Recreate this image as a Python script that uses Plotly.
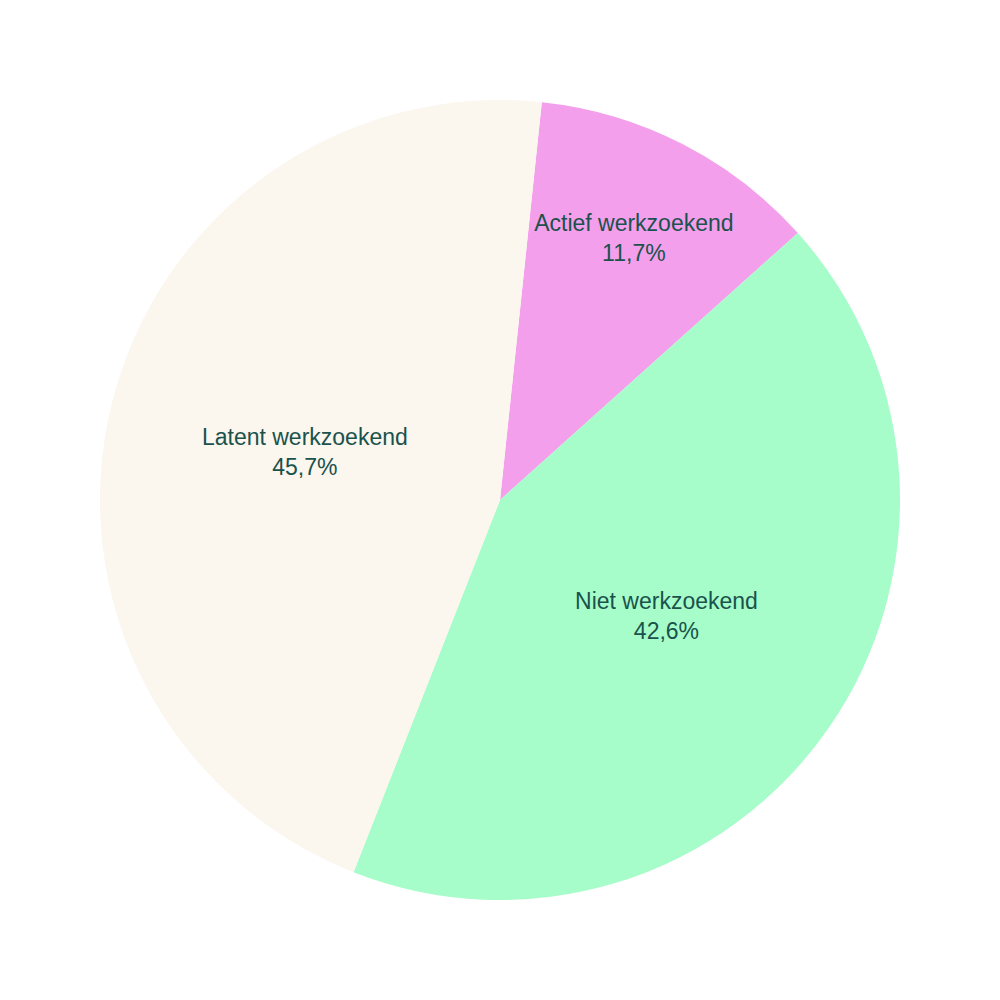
import plotly.graph_objects as go

labels = ["Actief werkzoekend", "Niet werkzoekend", "Latent werkzoekend"]
values = [11.7, 42.6, 45.7]
colors = ["#F49FEC", "#A6FDC9", "#FBF6EE"]

# Dutch decimal comma for the slice labels
pct_text = [f"{v:.1f}".replace(".", ",") + "%" for v in values]

fig = go.Figure(
    go.Pie(
        labels=labels,
        values=values,
        text=pct_text,
        texttemplate="%{label}<br>%{text}",
        textposition="inside",
        insidetextorientation="horizontal",
        textfont=dict(family="Liberation Sans, Arial, sans-serif", size=23, color="#1A524C"),
        marker=dict(colors=colors, line=dict(width=0)),
        sort=False,
        direction="clockwise",
        rotation=6,
        hoverinfo="label+percent",
    )
)

# page body has an 8px margin, so shift the plot area up/left to centre at 500,500
fig.update_layout(
    width=1000,
    height=1000,
    margin=dict(l=92, r=108, t=92, b=108),
    paper_bgcolor="white",
    plot_bgcolor="white",
    showlegend=False,
)

fig.write_html("out.html")
